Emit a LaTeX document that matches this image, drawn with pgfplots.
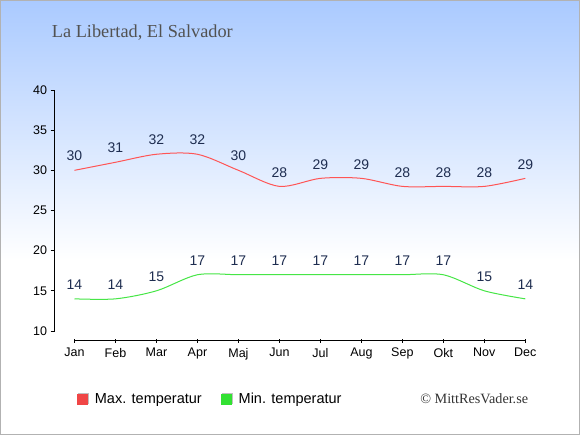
\documentclass[border=0pt]{standalone}
\usepackage{pgfplots}
\pgfplotsset{compat=1.18}
\usepackage{fontspec}
\setmainfont{Liberation Sans}
\newfontfamily\serif{Liberation Serif}
\definecolor{maxline}{RGB}{255,85,85}
\definecolor{minline}{RGB}{70,230,70}
\definecolor{maxsq}{RGB}{240,70,70}
\definecolor{minsq}{RGB}{50,225,50}
\definecolor{lbl}{RGB}{30,45,80}
\definecolor{bgtop}{RGB}{170,202,255}
\pgfplotstableread{
x max min
0 30 14
1 31 14
2 32 15
3 32 17
4 30 17
5 28 17
6 29 17
7 29 17
8 28 17
9 28 17
10 28 15
11 29 14
}\temps
\begin{document}
\begin{tikzpicture}
\path[use as bounding box] (0pt,0pt) rectangle (580pt,435pt);
\fill[white] (0pt,0pt) rectangle (580pt,435pt);
\shade[top color=bgtop, bottom color=white] (0pt,175pt) rectangle (580pt,435pt);
\draw[black!30, line width=1.2pt] (0.6pt,0.6pt) rectangle (579.4pt,434.4pt);
\node[anchor=base west, inner sep=0pt, font=\serif\fontsize{18.3}{21}\selectfont, text=black!68] at (51.7pt,397.5pt) {La Libertad, El Salvador};
\node[anchor=base east, inner sep=0pt, font=\serif\fontsize{14.2}{16}\selectfont, text=black!80] at (528.3pt,31.7pt) {© MittResVader.se};
\begin{axis}[
  at={(54.5pt,94.3pt)}, anchor=south west, scale only axis,
  width=470.8pt, height=250.7pt,
  xmin=-0.488, xmax=11, ymin=8.79, ymax=40,
  axis line style={draw=none}, clip=false,
  /pgf/number format/assume math mode=true,
  xtick={0,...,11},
  xticklabels={Jan,Feb,Mar,Apr,Maj,Jun,Jul,Aug,Sep,Okt,Nov,Dec},
  ytick={10,15,...,40},
  xtick pos=bottom, ytick pos=left,
  tick align=outside, major tick length=4pt,
  x tick style={black, line width=0.9pt, yshift=2pt},
  y tick style={black, line width=0.9pt},
  ticklabel style={font=\fontsize{12.5}{14}\selectfont, text=black},
  legend columns=2,
  legend style={at={(axis description cs:0.0484,-0.2325)}, anchor=west, draw=none, fill=none, inner sep=0pt,
    font=\fontsize{14.5}{16}\selectfont,
    /tikz/every odd column/.append style={column sep=6pt},
    /tikz/every even column/.append style={column sep=19.5pt},
    nodes={inner sep=0pt}},
  legend cell align=left,
  nodes near coords,
  every node near coord/.append style={font=\fontsize{14}{16}\selectfont, text=lbl, anchor=south, inner sep=0pt, yshift=8.7pt},
]
\addlegendimage{legend image code/.code={\fill[black!25] (1pt,-4pt) rectangle (11pt,6pt); \fill[maxsq] (0pt,-5pt) rectangle (10pt,5pt);}}
\addlegendentry{Max. temperatur}
\addlegendimage{legend image code/.code={\fill[black!25] (1pt,-4pt) rectangle (11pt,6pt); \fill[minsq] (0pt,-5pt) rectangle (10pt,5pt);}}
\addlegendentry{Min. temperatur}
\addplot[maxline, line width=1pt, smooth, no marks, forget plot] table[x=x, y=max] {\temps};
\addplot[minline, line width=1pt, smooth, no marks, forget plot] table[x=x, y=min] {\temps};
\draw[black, line width=1pt] (axis cs:-0.488,10) -- (axis cs:-0.488,40);
\draw[black, line width=1pt] (axis cs:0,8.79) -- (axis cs:11,8.79);
\end{axis}
\end{tikzpicture}
\end{document}
